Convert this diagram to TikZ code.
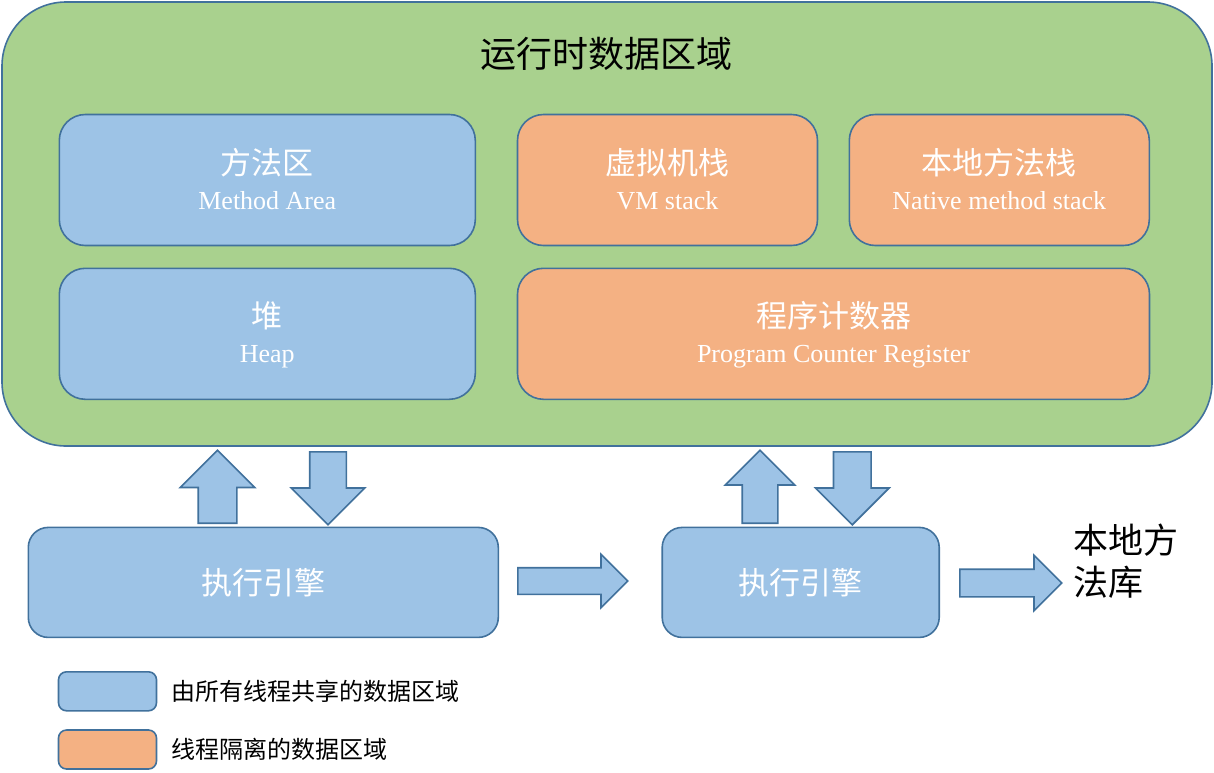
\documentclass[tikz,border=0pt]{standalone}
\usepackage{fontspec}
\setmainfont{Noto Sans CJK SC}
\newfontfamily\latfont{Liberation Serif}
\usetikzlibrary{shapes.arrows}

\definecolor{rtgreen}{HTML}{A9D18E}
\definecolor{sharedblue}{HTML}{9DC3E6}
\definecolor{threadorange}{HTML}{F4B183}
\definecolor{edgeblue}{HTML}{41719C}

\begin{document}
\begin{tikzpicture}[x=1pt, y=-1pt]
    \tikzset{
        every path/.style={line width=1.6pt},
        area/.style={draw=edgeblue, rounded corners=26pt, inner sep=0pt, align=center,
            text=white, font=\fontsize{26}{35}\selectfont, text height=61pt, text depth=3pt},
        shared/.style={area, fill=sharedblue},
        isolated/.style={area, fill=threadorange},
        engine/.style={draw=edgeblue, fill=sharedblue, rounded corners=20pt, inner sep=0pt,
            text=white, font=\fontsize{31}{31}\selectfont, minimum height=110pt},
        blockarrow/.style={single arrow, draw=edgeblue, fill=sharedblue,
            single arrow tip angle=90, anchor=tail}
    }
    \useasboundingbox (0,0) rectangle (1214,772);

    % 1. 运行时数据区域 (外框)
    \node[draw=edgeblue, fill=rtgreen, rounded corners=64pt, minimum width=1210pt,
        minimum height=444pt] (rt) at (607, 224) {};
    \node[font=\fontsize{36}{36}\selectfont] (title) at (606, 54) {运行时数据区域};

    % 2. 线程共享 / 线程隔离的区域
    \node[shared, minimum width=416pt, minimum height=131pt] (method) at (267.3, 180)
        {{\fontsize{31}{35}\selectfont 方法区}\\{\latfont Method Area}};
    \node[isolated, minimum width=300pt, minimum height=131pt] (vmstack) at (667.5, 180)
        {{\fontsize{31}{35}\selectfont 虚拟机栈}\\{\latfont VM stack}};
    \node[isolated, minimum width=300pt, minimum height=131pt] (nativestack) at (999.3, 180)
        {{\fontsize{31}{35}\selectfont 本地方法栈}\\{\latfont Native method stack}};
    \node[shared, minimum width=416pt, minimum height=131pt] (heap) at (267.3, 333.8)
        {{\fontsize{31}{35}\selectfont 堆}\\{\latfont Heap}};
    \node[isolated, minimum width=632pt, minimum height=131pt] (pc) at (833.5, 333.8)
        {{\fontsize{31}{35}\selectfont 程序计数器}\\{\latfont Program Counter Register}};

    % 3. 执行引擎
    \node[engine, minimum width=470pt] (engineA) at (263.3, 582.4) {执行引擎};
    \node[engine, minimum width=277pt] (engineB) at (800.7, 582.4) {执行引擎};

    % 4. 块状箭头 (inner sep = 箭身宽度的一半, 从箭尾定位)
    \node[blockarrow, shape border rotate=90, minimum height=73pt, inner sep=18.5pt,
        single arrow head extend=18pt] (upA) at (217.5, 524) {};
    \node[blockarrow, shape border rotate=270, minimum height=73pt, inner sep=17.5pt,
        single arrow head extend=18.5pt] (downA) at (328, 451) {};
    \node[blockarrow, shape border rotate=90, minimum height=73pt, inner sep=17pt,
        single arrow head extend=17pt] (upB) at (760, 524) {};
    \node[blockarrow, shape border rotate=270, minimum height=73pt, inner sep=18pt,
        single arrow head extend=18pt] (downB) at (852.3, 451) {};
    \node[blockarrow, minimum height=110pt, inner sep=12.5pt,
        single arrow head extend=13.5pt] (toB) at (517, 581) {};
    \node[blockarrow, minimum height=102pt, inner sep=13pt,
        single arrow head extend=14pt] (tonative) at (959, 583) {};

    % 5. 本地方法库
    \node[anchor=west, align=left, inner sep=0pt, font=\fontsize{35}{42}\selectfont]
        (nativelib) at (1073, 561) {本地方\\法库};

    % 6. 图例
    \node[draw=edgeblue, fill=sharedblue, rounded corners=8pt, minimum width=98pt,
        minimum height=39pt] (keyshared) at (107.5, 691.3) {};
    \node[draw=edgeblue, fill=threadorange, rounded corners=8pt, minimum width=98pt,
        minimum height=39pt] (keyisolated) at (107.5, 749.5) {};
    \node[anchor=west, inner sep=0pt, font=\fontsize{24}{24}\selectfont]
        (keysharedtext) at (171, 691.3) {由所有线程共享的数据区域};
    \node[anchor=west, inner sep=0pt, font=\fontsize{24}{24}\selectfont]
        (keyisolatedtext) at (171, 749.5) {线程隔离的数据区域};
\end{tikzpicture}
\end{document}
